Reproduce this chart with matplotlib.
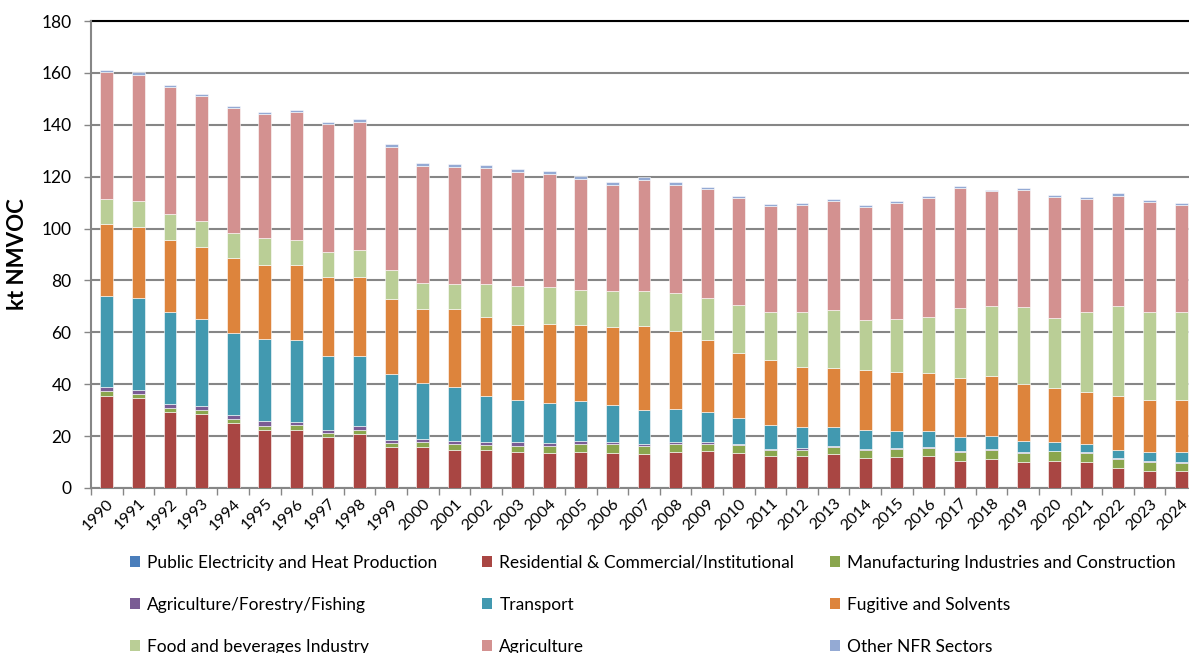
import matplotlib
matplotlib.use("Agg")
import matplotlib.pyplot as plt
import numpy as np
from matplotlib.patches import Patch

years = [str(y) for y in range(1990, 2025)]

# cumulative tops (kt NMVOC)
top_public = [0.1] * 35
top_resid = [35.5, 34.6, 29.2, 28.5, 25.1, 22.4, 22.4, 19.5, 20.8, 15.7, 15.7, 14.7, 14.7, 13.9, 13.5, 14.0, 13.6, 13.1, 13.9, 14.4,
             13.6, 12.3, 12.2, 13.1, 11.6, 12.0, 12.3, 10.4, 11.2, 10.0, 10.4, 10.0, 7.8, 6.6, 6.6]
top_manuf = [37.3, 36.4, 30.8, 30.2, 26.5, 24.0, 24.2, 21.2, 22.5, 17.5, 17.6, 16.8, 16.6, 16.3, 16.3, 17.1, 16.8, 16.3, 16.8, 17.1,
             16.5, 14.8, 14.8, 15.8, 14.8, 15.0, 15.4, 14.0, 14.8, 13.5, 14.1, 13.4, 11.2, 9.9, 9.8]
top_aff = [38.8, 37.9, 32.3, 31.7, 28.1, 25.7, 25.6, 22.5, 23.8, 18.6, 19.0, 18.3, 17.7, 17.6, 17.4, 18.3, 17.9, 17.1, 17.6, 17.9,
           17.1, 15.2, 15.4, 16.2, 15.2, 15.4, 15.7, 14.3, 15.0, 13.9, 14.4, 13.8, 11.6, 10.3, 10.2]
top_transport = [74.0, 73.3, 67.9, 65.2, 59.8, 57.5, 57.0, 50.7, 50.8, 43.8, 40.5, 38.8, 35.6, 33.9, 32.9, 33.4, 32.1, 30.2, 30.3, 29.2,
                 27.0, 24.4, 23.4, 23.7, 22.4, 22.0, 21.9, 19.5, 19.9, 18.1, 17.7, 16.8, 14.8, 13.8, 13.8]
top_fugitive = [101.6, 100.7, 95.6, 93.0, 88.5, 85.9, 85.9, 81.3, 81.3, 72.8, 68.9, 68.9, 66.1, 62.8, 63.2, 62.8, 62.0, 62.4, 60.6, 57.2,
                52.1, 49.2, 46.6, 46.2, 45.4, 44.9, 44.3, 42.3, 43.0, 40.0, 38.6, 37.1, 35.6, 33.9, 33.9]
top_food = [111.4, 110.6, 105.5, 102.8, 98.4, 96.3, 95.6, 90.8, 91.6, 83.9, 79.0, 78.7, 78.8, 77.7, 77.4, 76.5, 75.8, 76.0, 75.0, 73.1,
            70.5, 67.7, 67.7, 68.8, 64.8, 65.3, 66.1, 69.2, 70.0, 69.6, 65.6, 67.7, 70.0, 68.0, 68.0]
top_agri = [160.2, 159.3, 154.5, 151.1, 146.6, 144.2, 144.8, 140.4, 141.2, 131.6, 124.3, 123.9, 123.5, 121.9, 121.2, 119.2, 116.9, 118.7, 116.9, 115.1,
            111.9, 108.8, 109.1, 110.8, 108.3, 109.7, 111.9, 115.8, 114.4, 115.0, 112.1, 111.4, 112.7, 110.1, 109.1]
top_other = [161.0, 160.2, 155.2, 152.0, 147.4, 144.9, 145.7, 141.2, 142.1, 132.5, 125.2, 124.9, 124.4, 122.8, 122.2, 120.3, 118.0, 119.8, 118.0, 115.9,
             112.7, 109.6, 109.9, 111.5, 109.1, 110.6, 112.6, 116.3, 114.9, 115.7, 112.8, 112.2, 113.6, 111.0, 109.9]

labels = ["Public Electricity and Heat Production", "Residential & Commercial/Institutional",
          "Manufacturing Industries and Construction", "Agriculture/Forestry/Fishing", "Transport",
          "Fugitive and Solvents", "Food and beverages Industry", "Agriculture", "Other NFR Sectors"]
colors = ["#4A7EBB", "#A94643", "#8AA64E", "#7A5C94", "#4299B0", "#DD843C", "#BACE96", "#D39190", "#94AAD4"]

tops = [np.array(top_public), np.array(top_resid), np.array(top_manuf), np.array(top_aff),
        np.array(top_transport), np.array(top_fugitive), np.array(top_food), np.array(top_agri),
        np.array(top_other)]

plt.rcParams['font.family'] = ['Lato', 'DejaVu Sans']

fig = plt.figure(figsize=(11.89, 6.53), dpi=100)
ax = fig.add_axes([91/1189, 1-488/653, (1197-91)/1189, (488-21)/653])

x = np.arange(len(years))
for i, (t, c) in enumerate(zip(tops, colors)):
    if i <= 1:
        b = np.zeros(len(years))
        h = t
    else:
        b = tops[i-1]
        h = t - b
    ax.bar(x, h, bottom=b, width=0.4, color=c, edgecolor='#ffffff', linewidth=0.4, zorder=3)

ax.set_xlim(-0.5, 34.5)
ax.set_ylim(0, 180)
ax.set_yticks(range(0, 181, 20))
ax.yaxis.grid(True, color='#868686', linewidth=1.5, zorder=0)
ax.set_axisbelow(True)
ax.axhline(180, color='black', linewidth=1.5, zorder=1, clip_on=False)
for s in ['top', 'right']:
    ax.spines[s].set_visible(False)
for s in ['left', 'bottom']:
    ax.spines[s].set_color('#868686')
    ax.spines[s].set_linewidth(1.5)
ax.set_xticks(x)
ax.set_xticklabels(years, rotation=45, ha='right', rotation_mode='anchor', fontsize=11.5)
ax.set_xticks(np.arange(-0.5, 35, 1), minor=True)
ax.tick_params(axis='x', which='major', length=0, pad=6)
ax.tick_params(axis='x', which='minor', length=5, color='#868686', width=1)
ax.tick_params(axis='y', length=5, color='#868686', width=1, labelsize=12.5, pad=9)
ax.set_ylabel('kt NMVOC', fontsize=16, fontweight='bold', labelpad=10)

handles = [Patch(facecolor=c, edgecolor='none', label=l) for c, l in zip(colors, labels)]
col_x = [130/1189, 482/1189, 830/1189]
for ci in range(3):
    hs = [handles[ci], handles[ci+3], handles[ci+6]]
    fig.legend(handles=hs, loc='upper left', bbox_to_anchor=(col_x[ci], 1-555/653),
               ncol=1, frameon=False, fontsize=12.5, handlelength=0.6, handleheight=0.6,
               handletextpad=0.4, labelspacing=1.5, borderaxespad=0, borderpad=0)

fig.savefig('out.png', dpi=100)
